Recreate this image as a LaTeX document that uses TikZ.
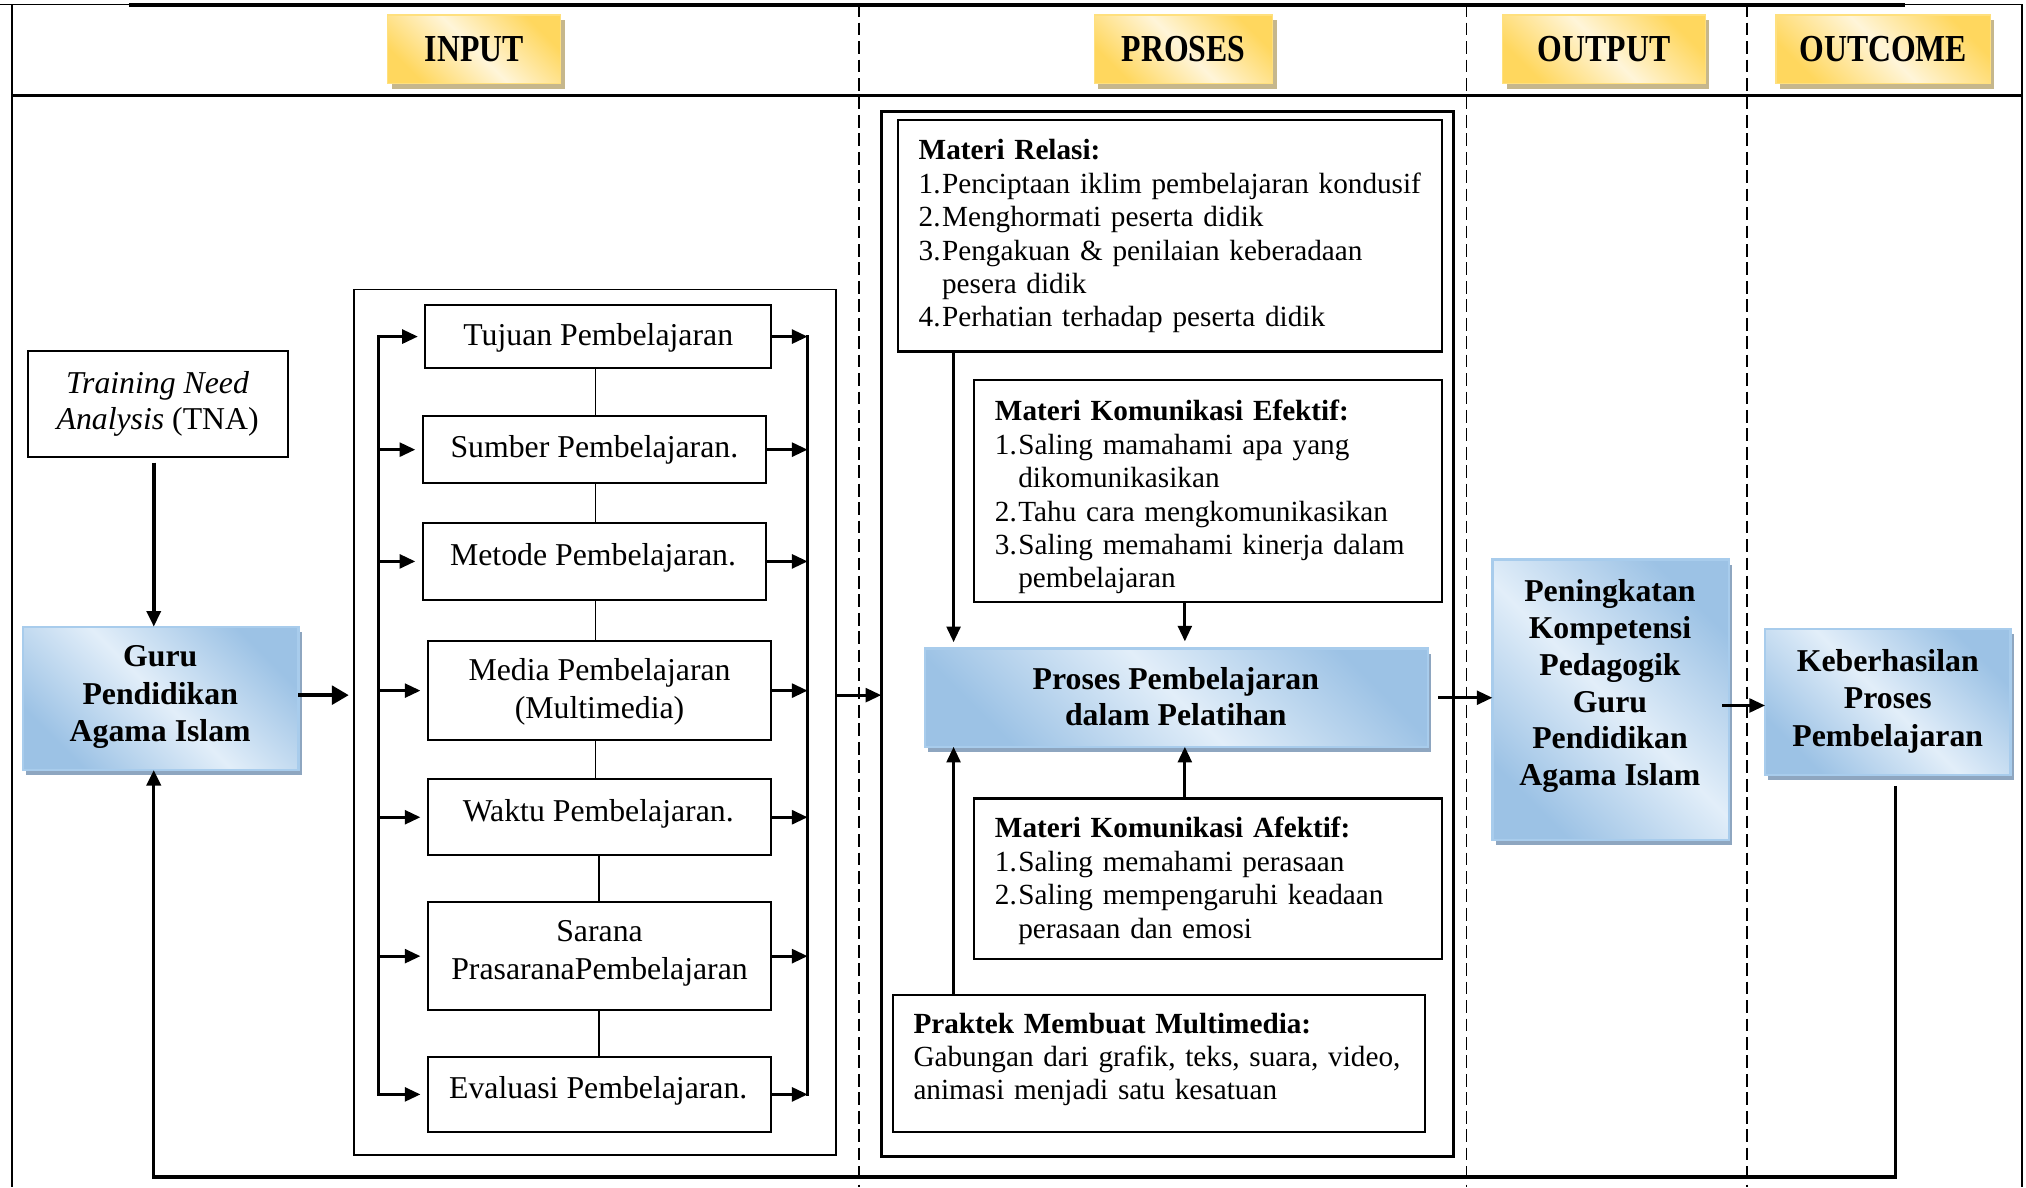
\documentclass[tikz,border=0pt]{standalone}
\usepackage{fontspec}
\setmainfont{Liberation Serif}
\usepackage{graphicx}
\usetikzlibrary{arrows.meta}

\definecolor{goldE}{HTML}{FFD75E}
\definecolor{goldM}{HTML}{FFF5D9}
\definecolor{goldB}{HTML}{FFE07E}
\definecolor{goldS}{HTML}{C6B78C}
\definecolor{blueE}{HTML}{9CC2E5}
\definecolor{blueM}{HTML}{E2EEF9}
\definecolor{blueB}{HTML}{A8CCEC}
\definecolor{blueS}{HTML}{8EA6C0}

\pgfdeclarelayer{shadowlayer}
\pgfsetlayers{shadowlayer,main}

\newcommand\numw{0.29cm}
\newcommand\numitem[2]{\makebox[\numw][l]{#1}#2}
\newcommand\numcont[1]{\hspace*{\numw}#1}
\newcommand\fin{\fontsize{11.2}{13.2}\selectfont}
\newcommand\fpr{\fontsize{10.3}{11.8}\selectfont}

\begin{document}
\begin{tikzpicture}[x=0.016cm, y=-0.016cm,
  every node/.style={inner sep=0pt, outer sep=0pt},
  sz/.style 2 args={minimum width=#1*0.016cm, minimum height=#2*0.016cm},
  plain/.style={draw, line width=0.7pt, rectangle},
  headbox/.style={rectangle, draw=goldB, line width=0.5pt, top color=goldE, bottom color=goldE, middle color=goldM, shading angle=-45, font=\fontsize{11.2}{13}\selectfont\bfseries},
  bluebox/.style={rectangle, draw=blueB, line width=0.8pt, top color=blueE, bottom color=blueE, middle color=blueM, shading angle=-45},
  txtin/.style={font=\fin, align=center},
  txtbold/.style={font=\fontsize{11.2}{13.2}\selectfont\bfseries, align=center},
  txtpr/.style={font=\fpr, align=left, text width=6.8cm, anchor=base west},
  arr/.style={line width=1pt, -{Triangle[length=5.5pt,width=4.9pt]}},
  arrbig/.style={line width=1.5pt, -{Triangle[length=6pt,width=6.5pt]}},
  bus/.style={line width=1.1pt, line cap=rect},
  link/.style={line width=0.5pt},
  lane/.style={line width=0.6pt, dash pattern=on 4.5pt off 2pt},
]
\useasboundingbox (0,0) rectangle (1568,919);

% outer frame, header band and column lanes
\draw[line width=0.5pt] (0,3.3) -- (1566,3.3);
\draw[line width=1.5pt] (100,4) -- (1474,4);
\draw[line width=0.8pt] (9.5,3.3) -- (9.5,919);
\draw[line width=0.8pt] (1565,3.3) -- (1565,919);
\draw[line width=0.8pt] (9.5,74) -- (1565,74);
\foreach \xx in {665,1135,1352} \draw[lane] (\xx,3.3) -- (\xx,919);

% column headers
\node[headbox, sz={134}{53}] (hin) at (367,38) {\scalebox{1}[1.2]{INPUT}};
\node[headbox, sz={138}{53}] (hpr) at (916,38) {\scalebox{1}[1.2]{PROSES}};
\node[headbox, sz={157}{53}] (hou) at (1241.5,38) {\scalebox{1}[1.2]{OUTPUT}};
\node[headbox, sz={166}{53}] (hoc) at (1457.5,38) {\scalebox{1}[1.2]{OUTCOME}};

% input side
\node[plain, sz={201}{82}] (tna) at (122.5,313) {};
\node[txtin, font=\fontsize{11.2}{12.7}\selectfont] (tnat) at (122,312.5) {\textit{Training Need}\\\textit{Analysis} (TNA)};
\node[bluebox, sz={213}{111}] (guru) at (124.5,540.5) {};
\node[txtbold] (gurut) at (124,539.5) {Guru\\Pendidikan\\Agama Islam};

\node[plain, line width=0.6pt, sz={373}{670}] (inbox) at (460.5,559) {};
\node[plain, sz={268}{49}] (tuj) at (463,260.5) {};
\node[txtin] (tujt) at (463,261.5) {Tujuan Pembelajaran};
\node[plain, sz={266}{52}] (sum) at (460,348) {};
\node[txtin] (sumt) at (460,348.5) {Sumber Pembelajaran.};
\node[plain, sz={266}{59}] (met) at (460,434.5) {};
\node[txtin] (mett) at (459,431.5) {Metode Pembelajaran.};
\node[plain, sz={266}{77}] (med) at (464,534.5) {};
\node[txtin] (medt) at (464,535.5) {Media Pembelajaran\\(Multimedia)};
\node[plain, sz={266}{59}] (wak) at (464,632.5) {};
\node[txtin] (wakt) at (463,629.5) {Waktu Pembelajaran.};
\node[plain, sz={266}{84}] (sar) at (464,740) {};
\node[txtin] (sart) at (464,738) {Sarana\\PrasaranaPembelajaran};
\node[plain, sz={266}{58}] (eva) at (464,847) {};
\node[txtin] (evat) at (463,844.5) {Evaluasi Pembelajaran.};

% process side
\node[plain, line width=1pt, sz={443}{809}] (prout) at (903.5,490.5) {};
\node[plain, line width=0.8pt, sz={421}{179}] (rel) at (905.5,182.5) {};
\node[txtpr] (relt) at (711,123.5) {\textbf{Materi Relasi:}\\
  \numitem{1.}{Penciptaan iklim pembelajaran kondusif}\\
  \numitem{2.}{Menghormati peserta didik}\\
  \numitem{3.}{Pengakuan \& penilaian keberadaan}\\
  \numcont{pesera didik}\\
  \numitem{4.}{Perhatian terhadap peserta didik}};
\node[plain, line width=0.8pt, sz={362}{172}] (efe) at (935,380) {};
\node[txtpr, text width=5.6cm] (efet) at (770,325.5) {\textbf{Materi Komunikasi Efektif:}\\
  \numitem{1.}{Saling mamahami apa yang}\\
  \numcont{dikomunikasikan}\\
  \numitem{2.}{Tahu cara mengkomunikasikan}\\
  \numitem{3.}{Saling memahami kinerja dalam}\\
  \numcont{pembelajaran}};
\node[bluebox, sz={389}{76}] (proses) at (910.5,540) {};
\node[txtbold, font=\fontsize{11.2}{12.7}\selectfont\bfseries] (prosest) at (910,539.5) {Proses Pembelajaran\\dalam Pelatihan};
\node[plain, line width=0.8pt, sz={362}{124}] (afe) at (935,680) {};
\node[txtpr, text width=5.6cm] (afet) at (770,648.5) {\textbf{Materi Komunikasi Afektif:}\\
  \numitem{1.}{Saling memahami perasaan}\\
  \numitem{2.}{Saling mempengaruhi keadaan}\\
  \numcont{perasaan dan emosi}};
\node[plain, line width=0.8pt, sz={412}{106}] (pra) at (897,823) {};
\node[txtpr] (prat) at (707,799.5) {\textbf{Praktek Membuat Multimedia:}\\
  Gabungan dari grafik, teks, suara, video,\\
  animasi menjadi satu kesatuan};

% output and outcome
\node[bluebox, sz={183}{217}] (pen) at (1246.5,541.5) {};
\node[txtbold, font=\fontsize{11.2}{13}\selectfont\bfseries] (pent) at (1246,531) {Peningkatan\\Kompetensi\\Pedagogik\\Guru\\Pendidikan\\Agama Islam};
\node[bluebox, sz={190}{113}] (keb) at (1461,543.5) {};
\node[txtbold] (kebt) at (1461,542.5) {Keberhasilan\\Proses\\Pembelajaran};

% drop shadows
\begin{pgfonlayer}{shadowlayer}
\foreach \nm in {hin,hpr,hou,hoc}
  \fill[goldS] ([shift={(3,4)}]\nm.south west) rectangle ([shift={(3,4)}]\nm.north east);
\foreach \nm in {guru,proses,pen,keb}
  \fill[blueS] ([shift={(2.5,4)}]\nm.south west) rectangle ([shift={(2.5,4)}]\nm.north east);
\end{pgfonlayer}

% input components: buses and links
\coordinate (lbus) at (293,0);
\coordinate (rbus) at (625,0);
\draw[bus] (lbus |- tuj.west) -- (lbus |- eva.west);
\draw[bus] (rbus |- tuj.east) -- (rbus |- eva.east);
\foreach \b in {tuj,sum,met,med,wak,sar,eva}{
  \draw[arr, shorten >=0.09cm] (lbus |- \b.west) -- (\b.west);
  \draw[arr] (\b.east) -- (rbus |- \b.east);
}
\coordinate (ca) at (461,0);
\coordinate (cb) at (463.5,0);
\draw[link] (tuj.south -| ca) -- (sum.north -| ca);
\draw[link] (sum.south -| ca) -- (met.north -| ca);
\draw[link] (met.south -| ca) -- (med.north -| ca);
\draw[link] (med.south -| ca) -- (wak.north -| ca);
\draw[link] (wak.south -| cb) -- (sar.north -| cb);
\draw[link] (sar.south -| cb) -- (eva.north -| cb);

% main flow
\coordinate (fx) at (119,0);
\coordinate (lv) at (0,538);
\coordinate (lv3) at (0,546);
\draw[arr, line width=1.3pt, shorten <=0.064cm] (tna.south -| fx) -- (guru.north -| fx);
\draw[arrbig, shorten >=0.064cm] (guru.east |- lv) -- (inbox.west |- lv);
\draw[arr] (inbox.east |- lv) -- (prout.west |- lv);
\draw[arr, shorten <=0.13cm] (proses.east) -- (pen.west |- proses.east);
\draw[arr, shorten <=-0.08cm] (pen.east |- lv3) -- (keb.west |- lv3);

% materials feeding the learning process
\coordinate (pa) at (738,0);
\coordinate (pb) at (917,0);
\draw[arr, shorten >=0.08cm] (rel.south -| pa) -- (proses.north -| pa);
\draw[arr, shorten >=0.09cm] (efe.south -| pb) -- (proses.north -| pb);
\draw[arr] (afe.north -| pb) -- (proses.south -| pb);
\draw[arr] (pra.north -| pa) -- (proses.south -| pa);

% feedback loop
\coordinate (fr) at (1467,911);
\coordinate (fl) at (119,911);
\draw[line width=1.2pt, -{Triangle[length=5.5pt,width=5pt]}, shorten <=0.13cm]
  (keb.south -| fr) -- (fr) -- (fl) -- (guru.south -| fl);
\end{tikzpicture}
\end{document}
